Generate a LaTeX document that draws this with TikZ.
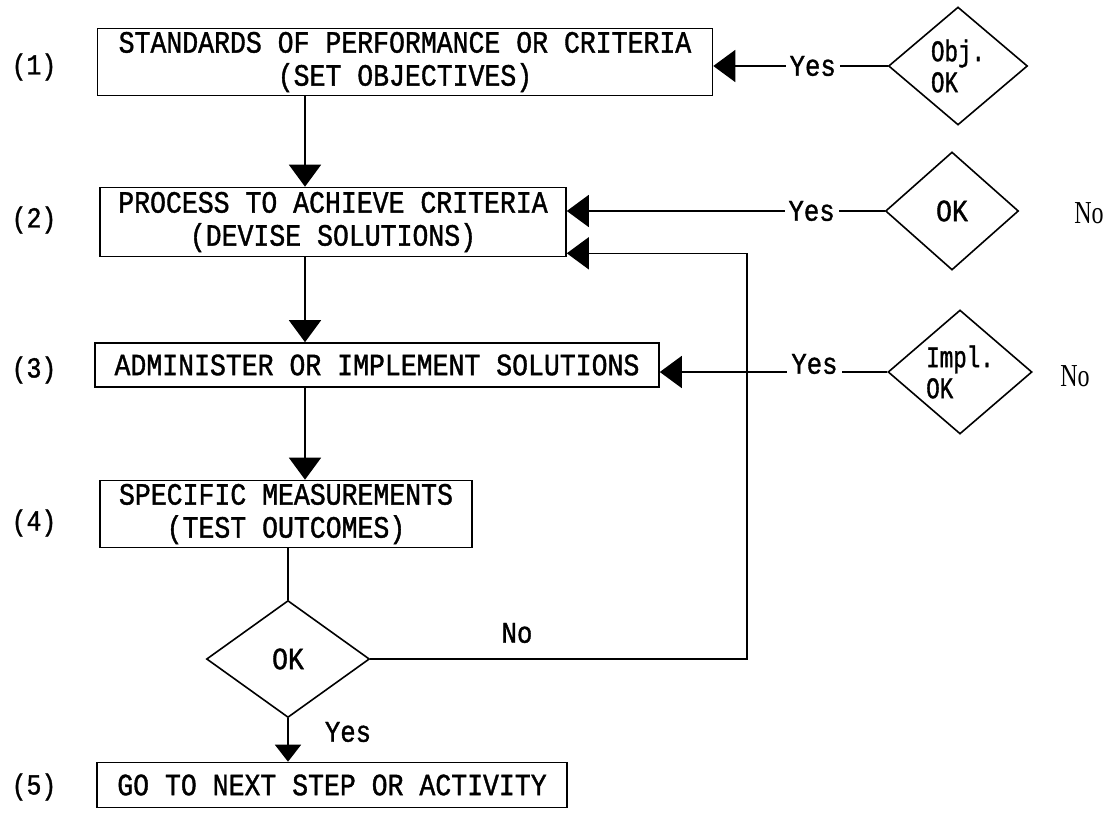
\documentclass[tikz,border=0pt]{standalone}
\usepackage{fontspec}
\newfontfamily\maquina[FakeStretch=0.855, FakeBold=1.2]{Liberation Mono}
\newfontfamily\maquinaestrecha[FakeStretch=0.75, FakeBold=1.2]{Liberation Mono}
\newfontfamily\romana[FakeStretch=0.75]{Liberation Serif}
\usetikzlibrary{arrows.meta, shapes.geometric, positioning, calc}

\begin{document}
\begin{tikzpicture}[x=1pt, y=-1pt,
	caja/.style={draw, line width=1.6pt, align=center, inner sep=0pt,
		font=\maquina\fontsize{31pt}{33pt}\selectfont},
	rombo/.style={draw, diamond, line width=1.6pt, inner sep=0pt, align=left,
		font=\maquinaestrecha\fontsize{30pt}{31pt}\selectfont},
	etiq/.style={font=\maquina\fontsize{30pt}{30pt}\selectfont, inner sep=4pt},
	paso/.style={font=\maquina\fontsize{29pt}{30pt}\selectfont},
	flecha/.style={line width=1.6pt, -{Triangle[length=22pt, width=32pt]}},
	linea/.style={line width=1.6pt}]
	\useasboundingbox (0,0) rectangle (1113,813);

	% cajas del proceso
	\node[caja, minimum width=615pt, minimum height=67pt] (crit) at (405,62)
		{STANDARDS OF PERFORMANCE OR CRITERIA\\(SET OBJECTIVES)};
	\node[caja, minimum width=466pt, minimum height=69pt] (proc) at (333,222)
		{PROCESS TO ACHIEVE CRITERIA\\(DEVISE SOLUTIONS)};
	\node[caja, minimum width=564pt, minimum height=44pt] (admin) at (377,365)
		{ADMINISTER OR IMPLEMENT SOLUTIONS};
	\node[caja, minimum width=372pt, minimum height=67pt] (medir) at (286,514)
		{SPECIFIC MEASUREMENTS\\(TEST OUTCOMES)};
	\node[caja, minimum width=470pt, minimum height=45pt] (sig) at (332,785)
		{GO TO NEXT STEP OR ACTIVITY};

	% numeración de los pasos
	\foreach \n/\y in {1/67, 2/220, 3/370, 4/523, 5/787}
		\node[paso] (n\n) at (34,\y) {(\n)};

	% rombos de decisión
	\node[rombo, minimum width=139pt, minimum height=118pt] (objok) at (958,66) {Obj.\\OK};
	\node[rombo, minimum width=133pt, minimum height=118pt,
		font=\maquina\fontsize{31pt}{31pt}\selectfont] (okproc) at (952,211) {OK};
	\node[rombo, minimum width=144pt, minimum height=124pt] (implok) at (960,372) {Impl.\\OK};
	\node[rombo, minimum width=163pt, minimum height=117pt,
		font=\maquina\fontsize{31pt}{31pt}\selectfont] (okmed) at (288,659) {OK};

	\node[font=\romana\fontsize{32pt}{34pt}\selectfont] (no2) at (1089,213) {No};
	\node[font=\romana\fontsize{32pt}{34pt}\selectfont] (no3) at (1075,376) {No};

	% flujo principal
	\coordinate (eje) at (305,0);
	\draw[flecha] (crit.south -| eje) -- (proc.north -| eje);
	\draw[flecha] (proc.south -| eje) -- (admin.north -| eje);
	\draw[flecha] (admin.south -| eje) -- (medir.north -| eje);
	\draw[linea] (medir.south -| okmed.north) -- (okmed.north);
	\draw[line width=1.6pt, -{Triangle[length=17pt, width=26pt]}] (okmed.south) -- (okmed.south |- sig.north);
	\node[etiq] (sisig) at (348,732) {Yes};

	% retorno cuando no se cumple
	\coordinate (riel) at (747,0);
	\coordinate (entrada) at ([yshift=4pt]proc.south east);
	\draw[flecha] (okmed.east) -- (okmed.east -| riel) -- (riel |- entrada) -- (entrada);
	\node[etiq] (nomed) at (517,633) {No};

	% entradas desde los rombos
	\draw[flecha] (objok.west) -- node[etiq, pos=0.43, fill=white] {Yes} (objok.west -| crit.east);
	\draw[flecha] (okproc.west) -- node[etiq, pos=0.23, fill=white] {Yes} (okproc.west -| proc.east);
	\draw[flecha] (implok.west) -- node[etiq, pos=0.32, fill=white, yshift=8pt] {Yes} (implok.west -| admin.east);
\end{tikzpicture}
\end{document}
